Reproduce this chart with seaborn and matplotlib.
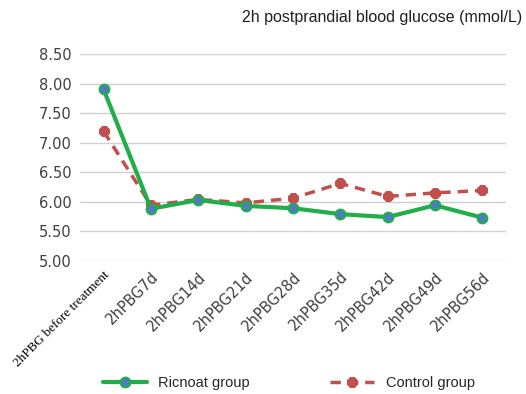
import matplotlib
matplotlib.use("Agg")
import matplotlib.pyplot as plt
import pandas as pd
import seaborn as sns

# values
timepoints = ["2hPBG before treatment", "2hPBG7d", "2hPBG14d", "2hPBG21d",
              "2hPBG28d", "2hPBG35d", "2hPBG42d", "2hPBG49d", "2hPBG56d"]
ricnoat = [7.90, 5.88, 6.03, 5.93, 5.89, 5.79, 5.74, 5.94, 5.73]
control = [7.19, 5.94, 6.04, 5.98, 6.06, 6.31, 6.09, 6.15, 6.19]
y_ticks = [5.00, 5.50, 6.00, 6.50, 7.00, 7.50, 8.00, 8.50]

sns.set_style("white")
plt.rcParams["font.family"] = ["DejaVu Sans"]

df = pd.DataFrame({"Time": timepoints, "Ricnoat group": ricnoat,
                   "Control group": control})

fig = plt.figure(figsize=(5.26, 3.94), dpi=100)
ax = fig.add_axes([0.152, 0.338, 0.81, 0.525])

sns.lineplot(data=df, x="Time", y="Ricnoat group", ax=ax, sort=False,
             color="#1fae48", linewidth=3, marker="o", markersize=7,
             markerfacecolor="#4f7ac4", markeredgecolor="#1fae48",
             markeredgewidth=1.5, label="Ricnoat group", zorder=3)
sns.lineplot(data=df, x="Time", y="Control group", ax=ax, sort=False,
             color="#c0504d", linewidth=2.5, linestyle=(0, (3, 2)),
             marker="8", markersize=7.5, markerfacecolor="#c0504d",
             markeredgecolor="#c0504d", label="Control group", zorder=2)

ax.set_xlim(-0.5, len(timepoints) - 0.5)
ax.set_ylim(5.0, 8.5)
ax.set_yticks(y_ticks)
ax.set_yticklabels([f"{v:.2f}" for v in y_ticks], fontsize=10.5, color="#404040")
ax.yaxis.grid(True, color="#d0d0d0", linewidth=1)
ax.set_axisbelow(True)
for s in ax.spines.values():
    s.set_visible(False)
ax.tick_params(axis="both", length=0, pad=6)
ax.set_xlabel("")
ax.set_ylabel("")

ax.set_xticks(range(len(timepoints)))
ax.set_xticklabels(timepoints, rotation=45, ha="right", rotation_mode="anchor",
                   fontsize=10.5, color="#404040")
first = ax.get_xticklabels()[0]
first.set_family("Liberation Serif")
first.set_color("black")
first.set_fontsize(9.5)

fig.text(0.993, 0.955, "2h postprandial blood glucose (mmol/L)", ha="right",
         va="center", fontsize=11.5, family="Liberation Sans", color="#202020")

leg = ax.legend(loc="center", bbox_to_anchor=(0.49, -0.59), ncol=2,
                frameon=False, handlelength=3, columnspacing=5.5,
                prop={"family": "Liberation Sans", "size": 10.5})

fig.savefig("out.png", dpi=100)
